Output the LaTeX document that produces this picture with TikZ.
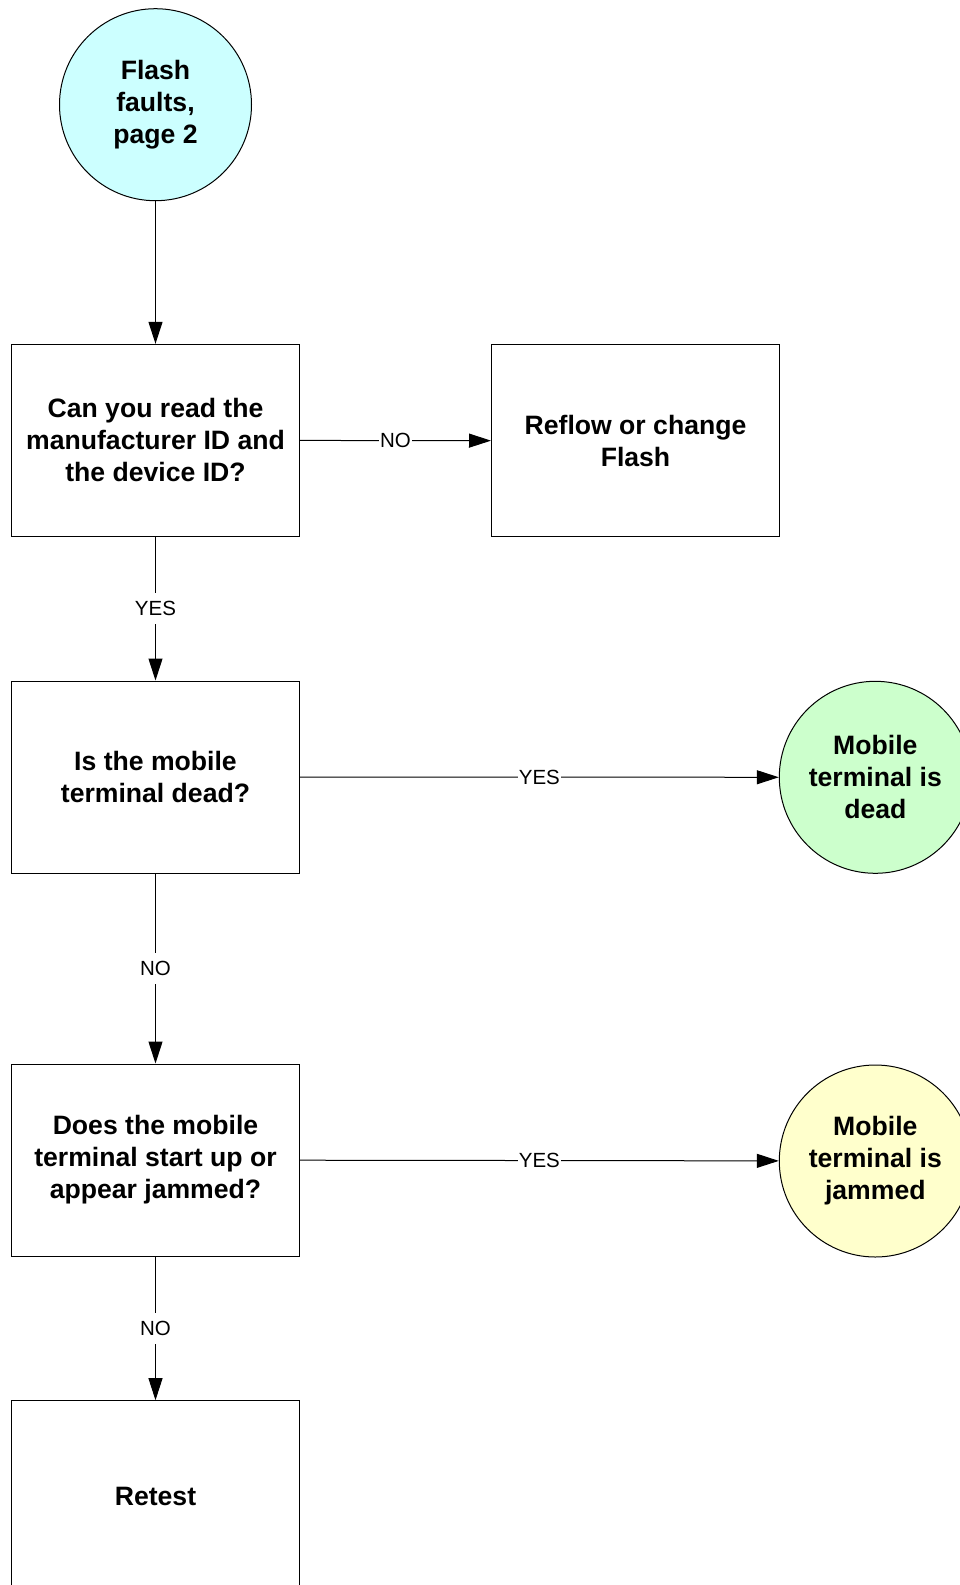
\documentclass[tikz,border=0pt]{standalone}
\usepackage{fontspec}
\setmainfont{Liberation Sans}
\usetikzlibrary{arrows.meta}
\begin{document}
\begin{tikzpicture}[x=1pt,y=-1pt,
  every node/.style={font=\fontsize{26.6}{32}\selectfont\bfseries, align=center, line width=1pt},
  stepbox/.style={draw=black, rectangle, minimum width=288pt, minimum height=192pt, inner sep=0pt},
  endcircle/.style={draw=black, circle, minimum size=192pt, inner sep=0pt},
  flow/.style={draw=black, line width=1pt, -{Triangle[length=22pt,width=14pt]}},
  lbl/.style={font=\fontsize{20.5}{24}\selectfont, fill=white, inner xsep=1pt, inner ysep=8pt}]
  \useasboundingbox (0,0) rectangle (960,1585);
  \clip (0,0) rectangle (960,1585);

  % terminals and process boxes
  \node[endcircle, fill={rgb,255:red,204;green,255;blue,255}] (start) at (155.5,104.7) {Flash\\faults,\\page 2};
  \node[stepbox] (readid) at (155.5,440.3) {Can you read the\\manufacturer ID and\\the device ID?};
  \node[stepbox] (reflow) at (635.5,440.8) {Reflow or change\\Flash};
  \node[stepbox] (dead) at (155.5,777) {Is the mobile\\terminal dead?};
  \node[endcircle, fill={rgb,255:red,204;green,255;blue,204}] (isdead) at (875.3,777.3) {Mobile\\terminal is\\dead};
  \node[stepbox] (jammed) at (155.5,1160) {Does the mobile\\terminal start up or\\appear jammed?};
  \node[endcircle, fill={rgb,255:red,255;green,255;blue,204}] (isjam) at (875.3,1161) {Mobile\\terminal is\\jammed};
  \node[stepbox] (retest) at (155.5,1496.7) {Retest};

  % connectors
  \draw[flow] (start) -- (readid);
  \draw[flow] (readid) -- node[lbl] {NO} (reflow);
  \draw[flow] (readid) -- node[lbl] {YES} (dead);
  \draw[flow] (dead) -- node[lbl] {YES} (isdead);
  \draw[flow] (dead) -- node[lbl] {NO} (jammed);
  \draw[flow] (jammed) -- node[lbl] {YES} (isjam);
  \draw[flow] (jammed) -- node[lbl] {NO} (retest);
\end{tikzpicture}
\end{document}
